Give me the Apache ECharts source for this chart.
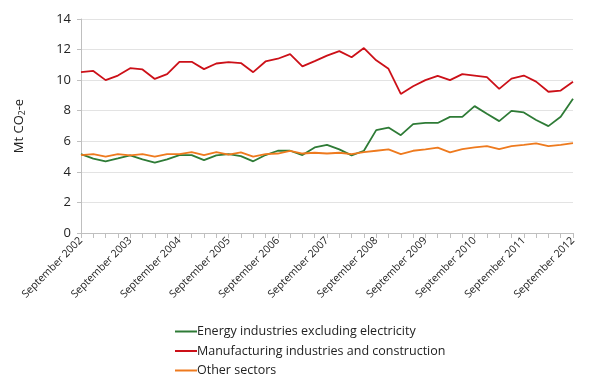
<!DOCTYPE html>
<html><head><meta charset="utf-8">
<script src="https://cdn.jsdelivr.net/npm/echarts@6/dist/echarts.min.js"></script>
<style>html,body{margin:0;padding:0;background:#fff}#c{width:593px;height:382px}</style>
</head><body><div id="c"></div>
<script>
// 41 quarterly points, Sep 2002 .. Sep 2012
const quarters = ["Sep","Dec","Mar","Jun"];
const categories = [];
for (let i = 0; i < 41; i++) {
  const m = quarters[i % 4];
  categories.push(m === "Sep" ? "September " + (2002 + i / 4) : m + " " + (2002 + Math.ceil(i / 4)));
}
const energy = [5.16,4.86,4.69,4.88,5.08,4.82,4.6,4.82,5.1,5.1,4.77,5.08,5.16,5.03,4.69,5.1,5.38,5.38,5.1,5.6,5.77,5.47,5.08,5.38,6.73,6.9,6.4,7.12,7.2,7.2,7.6,7.6,8.3,7.8,7.32,7.99,7.89,7.39,6.99,7.6,8.78];
const manufacturing = [10.52,10.6,10.0,10.3,10.78,10.7,10.08,10.39,11.2,11.2,10.72,11.09,11.18,11.12,10.52,11.22,11.4,11.7,10.9,11.24,11.6,11.9,11.5,12.1,11.3,10.74,9.1,9.6,10.0,10.28,10.0,10.39,10.3,10.2,9.43,10.1,10.3,9.9,9.24,9.32,9.9];
const other = [5.1,5.16,4.99,5.16,5.08,5.16,4.99,5.16,5.16,5.29,5.1,5.29,5.12,5.27,4.99,5.16,5.2,5.38,5.2,5.25,5.2,5.25,5.16,5.29,5.38,5.47,5.16,5.38,5.47,5.58,5.27,5.49,5.6,5.69,5.49,5.69,5.77,5.86,5.69,5.77,5.88];
const seriesNames = ["Energy industries excluding electricity","Manufacturing industries and construction","Other sectors"];
const colors = ["#2e7b36","#cc1018","#ee7a1e"];
const yTicks = [0,2,4,6,8,10,12,14];

const chart = echarts.init(document.getElementById('c'));
const font = "'Open Sans', 'Noto Sans', sans-serif";
chart.setOption({
  animation: false,
  textStyle: {fontFamily: font},
  grid: {left: 81, right: 20, top: 19, bottom: 149, containLabel: false},
  legend: {
    orient: 'vertical', left: 175, top: 325, itemGap: 6.5, padding: 0,
    itemWidth: 22, itemHeight: 2, icon: 'rect',
    textStyle: {fontSize: 12.5, color: '#222', fontFamily: font, padding: [0,0,0,-5]},
    data: seriesNames
  },
  xAxis: {
    type: 'category', data: categories, boundaryGap: false,
    axisLine: {lineStyle: {color: '#bfbfbf'}},
    axisTick: {show: true, interval: 0, length: 5, lineStyle: {color: '#bfbfbf'}},
    axisLabel: {
      rotate: 45, fontSize: 10.5, color: '#222', margin: 6,
      interval: (i) => i % 4 === 0
    },
    splitLine: {show: false}
  },
  yAxis: {
    type: 'value', min: yTicks[0], max: yTicks[yTicks.length-1], interval: 2,
    name: 'Mt CO{sub|2}-e', nameLocation: 'middle', nameGap: 54, nameRotate: 90,
    nameTextStyle: {fontSize: 13, color: '#222', fontFamily: font,
      rich: {sub: {fontSize: 8.5, verticalAlign: 'bottom', padding: [6,0,0,0], color: '#222', fontFamily: font}}},
    axisLine: {show: true, lineStyle: {color: '#bfbfbf'}},
    axisTick: {show: true, length: 4, lineStyle: {color: '#bfbfbf'}},
    axisLabel: {fontSize: 13, color: '#222', margin: 10},
    splitLine: {lineStyle: {color: '#e3e3e3', width: 1}}
  },
  series: [energy, manufacturing, other].map((d, k) => ({
    name: seriesNames[k], type: 'line', data: d, symbol: 'none',
    lineStyle: {color: colors[k], width: 1.8}, itemStyle: {color: colors[k]}
  }))
});
</script></body></html>
